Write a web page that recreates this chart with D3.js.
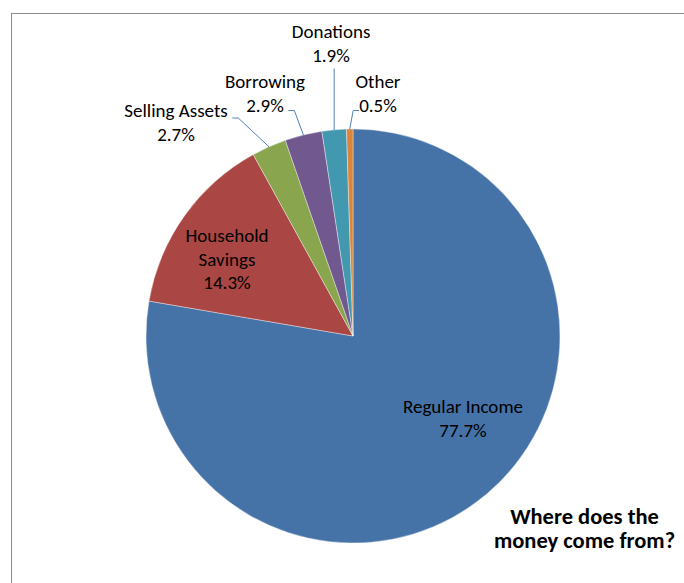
<!DOCTYPE html>
<html>
<head>
<meta charset="utf-8">
<script src="https://cdn.jsdelivr.net/npm/d3@7"></script>
<style>
  html, body { margin: 0; padding: 0; background: #fff; }
  text { font-family: Carlito, Lato, "Open Sans", sans-serif; fill: #000; }
</style>
</head>
<body>
<svg id="chart" width="684" height="583"></svg>
<script>
// Sources of money, share of total (%)
const categories = ["Regular Income", "Household Savings", "Selling Assets", "Borrowing", "Donations", "Other"];
const shares     = [77.7, 14.3, 2.7, 2.9, 1.9, 0.5];
const colors     = ["#4572A7", "#AA4643", "#89A54E", "#71588F", "#4198AF", "#DB843D"];
// Label text lines (name lines, then value)
const labelLines = [["Regular Income"], ["Household", "Savings"], ["Selling Assets"], ["Borrowing"], ["Donations"], ["Other"]];
const title      = ["Where does the", "money come from?"];

const W = 684, H = 583;
const cx = 353, cy = 336, R = 207;
const lineH = 23.5;

const svg = d3.select("#chart");

// chart frame (runs off the right and bottom edges)
svg.append("rect")
  .attr("x", 11.5).attr("y", 13.5)
  .attr("width", W + 20).attr("height", H + 20)
  .attr("fill", "none").attr("stroke", "#8c8c8c").attr("stroke-width", 1);

const data = categories.map((c, i) => ({ name: c, value: shares[i], color: colors[i], lines: labelLines[i] }));

const pie = d3.pie().value(d => d.value).sort(null).startAngle(0).endAngle(2 * Math.PI);
const arcs = pie(data);
const arc = d3.arc().innerRadius(0).outerRadius(R);

const g = svg.append("g").attr("transform", `translate(${cx},${cy})`);

g.selectAll("path.slice")
  .data(arcs)
  .enter().append("path")
  .attr("class", "slice")
  .attr("d", arc)
  .attr("fill", d => d.data.color)
  .attr("stroke", "rgba(255,255,255,0.55)")
  .attr("stroke-width", 0.7)
  .attr("stroke-linejoin", "round");

// point on the rim at the middle of a slice
function rimPoint(a) {
  const m = (a.startAngle + a.endAngle) / 2;
  return [R * Math.sin(m), -R * Math.cos(m)];
}

// label placement relative to pie centre: text centre x, first baseline y,
// and connector style for the small outside slices
const labelLayout = [
  { dx: 110,  dy: 77,   inside: true },
  { dx: -126, dy: -94,  inside: true },
  { dx: -177, dy: -219, side: "right", hook: 0 },
  { dx: -88,  dy: -248, side: "right", hook: 1 },
  { dx: -22,  dy: -298, side: "below" },
  { dx: 25,   dy: -248, side: "left",  hook: 1 }
];

const fmt = v => v.toFixed(1) + "%";
const fontSize = 19;

arcs.forEach((a, i) => {
  const L = labelLayout[i];
  const lines = a.data.lines.concat([fmt(a.data.value)]);
  const t = g.append("text")
    .attr("text-anchor", "middle")
    .style("font-size", fontSize + "px");
  lines.forEach((s, k) => {
    t.append("tspan").attr("x", L.dx).attr("y", L.dy + k * lineH).text(s);
  });
  if (L.inside) return;

  const [px, py] = rimPoint(a);
  let pts;
  if (L.side === "below") {
    const top = L.dy + (lines.length - 1) * lineH + 7;
    pts = [[px, top], [px, py]];
  } else {
    const spans = t.selectAll("tspan").nodes();
    const sp = spans[L.hook];
    const bb = sp.getBBox();
    const yy = L.dy + L.hook * lineH - (L.hook === 0 ? -1 : 1);
    if (L.side === "right") {
      const x0 = bb.x + bb.width + 4.5;
      pts = [[x0, yy], [x0 + 6, yy], [px, py]];
    } else {
      const x0 = bb.x;
      pts = [[x0, yy], [x0 - 6, yy], [px, py]];
    }
  }
  g.append("path")
    .attr("d", d3.line()(pts))
    .attr("fill", "none")
    .attr("stroke", "#4F81BD")
    .attr("stroke-width", 1);
});

// chart title, bottom right
const tt = svg.append("text")
  .attr("text-anchor", "middle")
  .style("font-size", "22.5px")
  .style("font-weight", "bold");
title.forEach((s, k) => {
  tt.append("tspan").attr("x", 584.5).attr("y", 524 + k * 24).text(s);
});
</script>
</body>
</html>
